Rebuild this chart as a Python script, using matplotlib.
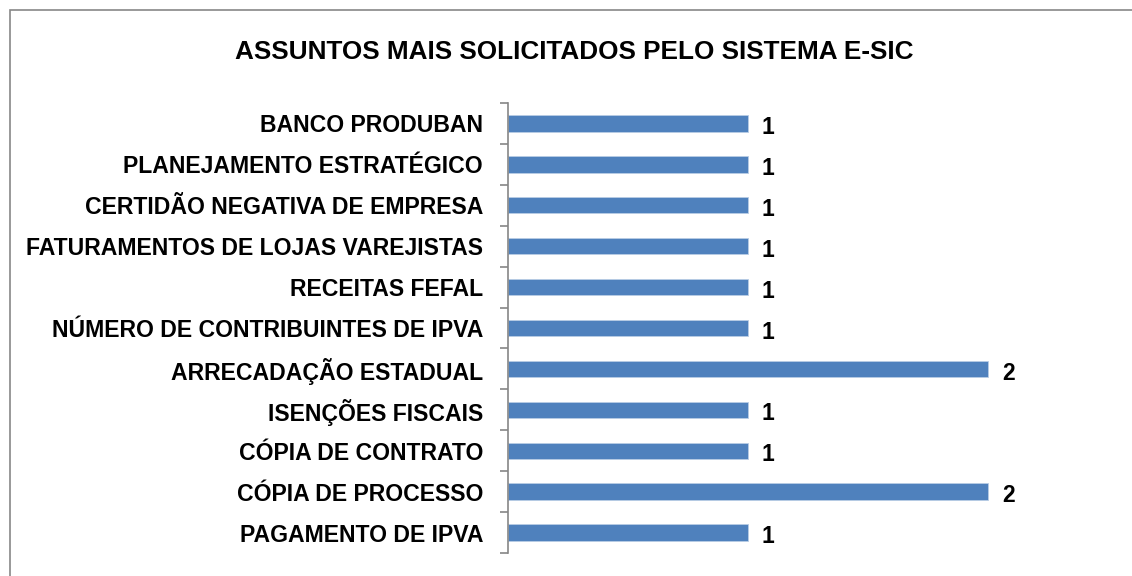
import matplotlib
matplotlib.use("Agg")
import matplotlib.pyplot as plt
from matplotlib.patches import Rectangle
import numpy as np

plt.rcParams['font.family'] = ['Liberation Sans', 'DejaVu Sans']

# categories listed bottom to top
categories = [
    "PAGAMENTO DE IPVA",
    "CÓPIA DE PROCESSO",
    "CÓPIA DE CONTRATO",
    "ISENÇÕES FISCAIS",
    "ARRECADAÇÃO ESTADUAL",
    "NÚMERO DE CONTRIBUINTES DE IPVA",
    "RECEITAS FEFAL",
    "FATURAMENTOS DE LOJAS VAREJISTAS",
    "CERTIDÃO NEGATIVA DE EMPRESA",
    "PLANEJAMENTO ESTRATÉGICO",
    "BANCO PRODUBAN",
]
values = [1, 2, 1, 1, 2, 1, 1, 1, 1, 1, 1]
title = "ASSUNTOS MAIS SOLICITADOS PELO SISTEMA E-SIC"

W, H = 1132, 576
fig = plt.figure(figsize=(W / 100, H / 100), dpi=100)
fig.patch.set_facecolor("white")

# outer chart border
fig.patches.append(Rectangle((10 / W, -0.05), 1.2, (H - 10) / H + 0.05,
                             transform=fig.transFigure, fill=False,
                             edgecolor="#878787", linewidth=1.2))

ax = fig.add_axes([508 / W, 23 / H, 600 / W, 450 / H])
y = np.arange(len(categories))
ax.barh(y, values, height=0.4, color="#4F81BD", edgecolor="#B9CDE5", linewidth=0.6)

ax.set_xlim(0, 2.5)
ax.set_ylim(-0.5, len(categories) - 0.5)
ax.set_xticks([])
ax.set_yticks(y)
ax.set_yticklabels(categories, fontsize=16.6, fontweight="bold")
ax.tick_params(axis="y", which="major", length=0, pad=18)
ax.set_yticks(np.arange(-0.5, len(categories)), minor=True)
ax.tick_params(axis="y", which="minor", length=6, color="#868686", width=1.2)

for s in ["top", "right", "bottom"]:
    ax.spines[s].set_visible(False)
ax.spines["left"].set_color("#868686")
ax.spines["left"].set_linewidth(1.2)

for yi, v in zip(y, values):
    ax.annotate(str(v), (v, yi), xytext=(10, -3), textcoords="offset points",
                ha="left", va="center", fontsize=16.5, fontweight="bold")

fig.text(574 / W, 1 - 52 / H, title, ha="center", va="center",
         fontsize=18.8, fontweight="bold")

fig.savefig("out.png", dpi=100)
